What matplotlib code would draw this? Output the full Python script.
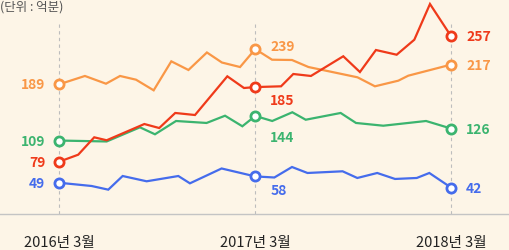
import matplotlib
matplotlib.use('Agg')
import matplotlib.pyplot as plt

plt.rcParams['font.family'] = ['Noto Sans CJK KR', 'DejaVu Sans']

# months counted from 2016-03 (vertices are not exactly monthly)
orange_x = [0, 1.57, 2.86, 3.72, 4.70, 5.78, 6.86, 7.91, 9.04, 9.96, 11.07, 12,
            13.03, 14.25, 15.26, 18.26, 19.33, 20.76, 21.37, 24]
orange_y = [189, 200.8, 189.8, 200.8, 195.5, 180.4, 221.6, 209.3, 234.2, 219.9, 213.5, 239,
            223.9, 223.5, 213.5, 198.9, 186.1, 194.1, 201.2, 217]

red_x = [0, 1.16, 2.14, 2.90, 5.21, 6.12, 7.10, 8.31, 10.29, 11.31, 12,
         13.58, 14.33, 15.41, 17.39, 18.41, 19.39, 20.66, 21.74, 22.70, 24]
red_y = [79, 88.9, 113.6, 109.4, 132.5, 126.8, 148.2, 145.3, 200.3, 183.7, 185,
         186.1, 203.6, 200.8, 228.8, 206.4, 237.7, 231.0, 252.3, 303.1, 257]

green_x = [0, 2.90, 4.94, 5.86, 7.15, 9.02, 10.15, 11.21, 12,
           13.04, 14.27, 15.09, 17.23, 18.17, 19.84, 22.46, 24]
green_y = [109, 107.7, 127.8, 117.9, 136.8, 134.0, 144.3, 129.3, 144,
           136.8, 149.2, 138.6, 148.2, 134.0, 130.1, 136.8, 126]

blue_x = [0, 1.98, 3.00, 3.88, 5.35, 7.29, 8.00, 9.94, 12,
          13.17, 14.25, 15.20, 17.35, 18.25, 19.47, 20.56, 21.89, 22.66, 24]
blue_y = [49, 44.4, 39.2, 58.6, 51.1, 58.6, 48.2, 69.3, 58,
          56.5, 71.4, 62.9, 65.3, 55.8, 62.9, 54.4, 55.8, 62.9, 42]

tick_pos = [0, 12, 24]
tick_labels = ['2016년 3월', '2017년 3월', '2018년 3월']

bg = '#fdf5e7'
colors = {'orange': '#f99746', 'red': '#ef3a1a', 'green': '#3bb46f', 'blue': '#456cec'}

# label offsets in pixels for (start, middle, end) markers
series = [
    ('orange', orange_x, orange_y, [(-14, 0, 'right'), (15, 3, 'left'), (15, 0, 'left')]),
    ('green', green_x, green_y, [(-14, 0, 'right'), (15, -21, 'left'), (15, 0, 'left')]),
    ('red', red_x, red_y, [(-14, 0, 'right'), (15, -13, 'left'), (15, 0, 'left')]),
    ('blue', blue_x, blue_y, [(-14, 0, 'right'), (15, -14, 'left'), (15, 0, 'left')]),
]

fig = plt.figure(figsize=(5.1, 2.51), dpi=100, facecolor=bg)
ax = fig.add_axes([0, 36 / 251, 1, 215 / 251])
ax.set_facecolor(bg)
ax.set_xlim(-3.63, 27.6)
ax.set_ylim(4.6, 310.2)

ax.vlines(tick_pos, 4.6, 275, colors='#bdbdbd', linestyles=(0, (3, 3)), lw=0.8, zorder=1)

for name, xs, ys, offs in series:
    c = colors[name]
    ax.plot(xs, ys, color=c, lw=1.6, zorder=2, solid_joinstyle='miter')
    for xv, (dx, dy, ha) in zip(tick_pos, offs):
        yv = ys[xs.index(xv)]
        ax.plot(xv, yv, 'o', ms=6.6, mew=2.0, mec=c, mfc='white', zorder=4, clip_on=False)
        ax.annotate(str(yv), (xv, yv), xytext=(dx, dy), textcoords='offset pixels',
                    ha=ha, va='center', color=c, fontsize=10, fontweight='bold')

for s in ['top', 'left', 'right']:
    ax.spines[s].set_visible(False)
ax.spines['bottom'].set_color('#c4c4c4')
ax.spines['bottom'].set_linewidth(1)
ax.set_yticks([])
ax.set_xticks(tick_pos)
ax.set_xticklabels(tick_labels, fontsize=10.5, color='#222222')
ax.tick_params(axis='x', length=0, pad=15)

fig.text(0.0, 1 - 7 / 251, '(단위 : 억분)', ha='left', va='center', fontsize=9, color='#555555')

fig.savefig('out.png', dpi=100, facecolor=bg)
